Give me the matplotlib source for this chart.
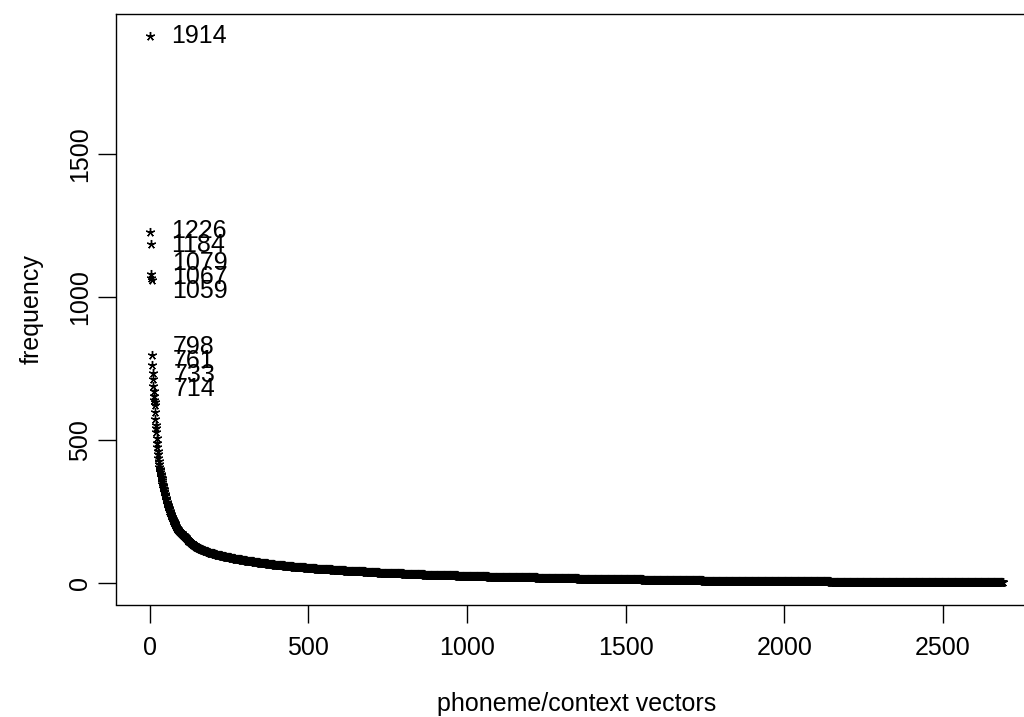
import numpy as np
import matplotlib
matplotlib.use("Agg")
import matplotlib.pyplot as plt

plt.rcParams["font.family"] = ["Liberation Sans", "DejaVu Sans"]
plt.rcParams["font.size"] = 18

# Most frequent phoneme/context vectors, one value per vector (ranks 1-115)
top_frequencies = [
    1914, 1226, 1184, 1079, 1067, 1059, 798, 761, 733, 714,
    688, 671, 652, 640, 631, 622, 598, 574, 551, 540,
    527, 508, 489, 476, 462, 449, 437, 426, 414, 405,
    399, 393, 387, 382, 376, 371, 365, 359, 353, 347,
    342, 337, 332, 327, 322, 317, 312, 307, 302, 297,
    292, 288, 284, 280, 276, 273, 269, 266, 262, 259,
    256, 252, 249, 246, 243, 240, 237, 234, 231, 228,
    225, 222, 220, 217, 215, 212, 209, 207, 204, 202,
    200, 198, 196, 194, 192, 190, 188, 187, 185, 183,
    182, 180, 179, 178, 177, 176, 175, 174, 173, 172,
    171, 170, 169, 168, 167, 166, 165, 164, 163, 162,
    160, 159, 158, 156, 155,
]

# Remaining vectors: how many vectors occur with frequency 1, 2, ..., 153
tail_frequency = list(range(1, 154))
tail_vector_count = [
    190,
    190, 165, 145,
    95, 85, 76, 68, 62, 59, 55,
    52, 50, 47, 45, 43, 42, 41, 39, 38, 36, 35, 32,
    30, 28, 27, 26, 24, 23, 22, 21, 20, 20, 19, 17, 15, 14,
    16, 16, 16, 15, 15, 14, 14, 14, 13, 13, 12,
    12, 12, 11, 11, 10, 10, 10, 9, 9, 9, 9, 9, 8, 8, 7, 7, 7,
    7, 7, 7, 6, 6, 6, 6, 6, 6, 6, 6, 5, 5, 6, 5, 5, 5, 5,
    5, 5, 4, 4, 5, 4, 4, 4, 4, 4, 4, 4, 4, 3, 4, 3, 3, 3, 4, 3, 3, 3, 2, 3,
    2, 3, 2, 2, 2, 2, 3, 2, 2, 2, 2, 2, 2, 2, 2, 2, 2, 1,
    1, 2, 1, 1, 1, 1, 2, 1, 1, 1, 1, 1, 1, 2, 1, 1, 1, 1, 1, 1, 1, 1, 1, 1, 1, 1, 1, 1,
]

n_labelled = 10

# Sorted frequency of every vector
tail = np.repeat(tail_frequency, tail_vector_count)[::-1]
freq = np.concatenate([np.array(top_frequencies, dtype=float), tail.astype(float)])
rank = np.arange(1, len(freq) + 1)


def spread(values, min_gap):
    """Push label positions apart so neighbouring labels keep min_gap."""
    pos = [float(v) for v in values]
    groups = [[i] for i in range(len(pos))]
    changed = True
    while changed:
        changed = False
        for g in range(len(groups) - 1):
            a, b = groups[g], groups[g + 1]
            if pos[a[-1]] - pos[b[0]] < min_gap - 1e-9:
                merged = a + b
                centre = np.mean([values[i] for i in merged])
                k = len(merged)
                for j, i in enumerate(merged):
                    pos[i] = centre + ((k - 1) / 2 - j) * min_gap
                groups[g:g + 2] = [merged]
                changed = True
                break
    return pos


fig = plt.figure(figsize=(10.24, 7.17), dpi=100)

n = len(freq)
xlim = (1 - 0.04 * (n - 1), n + 0.04 * (n - 1))
ylim = (-0.04 * freq.max(), 1.04 * freq.max())

left_px, top_px, bottom_px = 116.0, 14.0, 604.5
x_scale = 0.3172  # pixels per rank unit
width_px = (xlim[1] - xlim[0]) * x_scale
ax = fig.add_axes([left_px / 1024, (717 - bottom_px) / 717,
                   width_px / 1024, (bottom_px - top_px) / 717])

ax.plot(rank, freq, linestyle="none", marker=(5, 2, 0), markersize=6.5,
        markeredgewidth=1.0, color="black")

label_y = spread(freq[:n_labelled], 49.0)
for r, v, ly in zip(rank[:n_labelled], freq[:n_labelled], label_y):
    ax.annotate(f"{int(v)}", xy=(r, ly), xytext=(15, 0),
                textcoords="offset points", va="center", ha="left",
                fontsize=18)

ax.set_xlim(*xlim)
ax.set_ylim(*ylim)
ax.set_xticks([0, 500, 1000, 1500, 2000, 2500])
ax.set_yticks([0, 500, 1000, 1500])
ax.tick_params(axis="x", direction="out", length=13, width=1.0, pad=10, labelsize=18)
ax.tick_params(axis="y", direction="out", length=13, width=1.0, pad=4, labelsize=18)
for lab in ax.get_yticklabels():
    lab.set_rotation(90)
    lab.set_va("center")
for s in ax.spines.values():
    s.set_linewidth(1.0)

ax.set_xlabel("phoneme/context vectors", fontsize=18, labelpad=23)
ax.set_ylabel("frequency", fontsize=18, labelpad=18)

fig.savefig("out.png", dpi=100)
